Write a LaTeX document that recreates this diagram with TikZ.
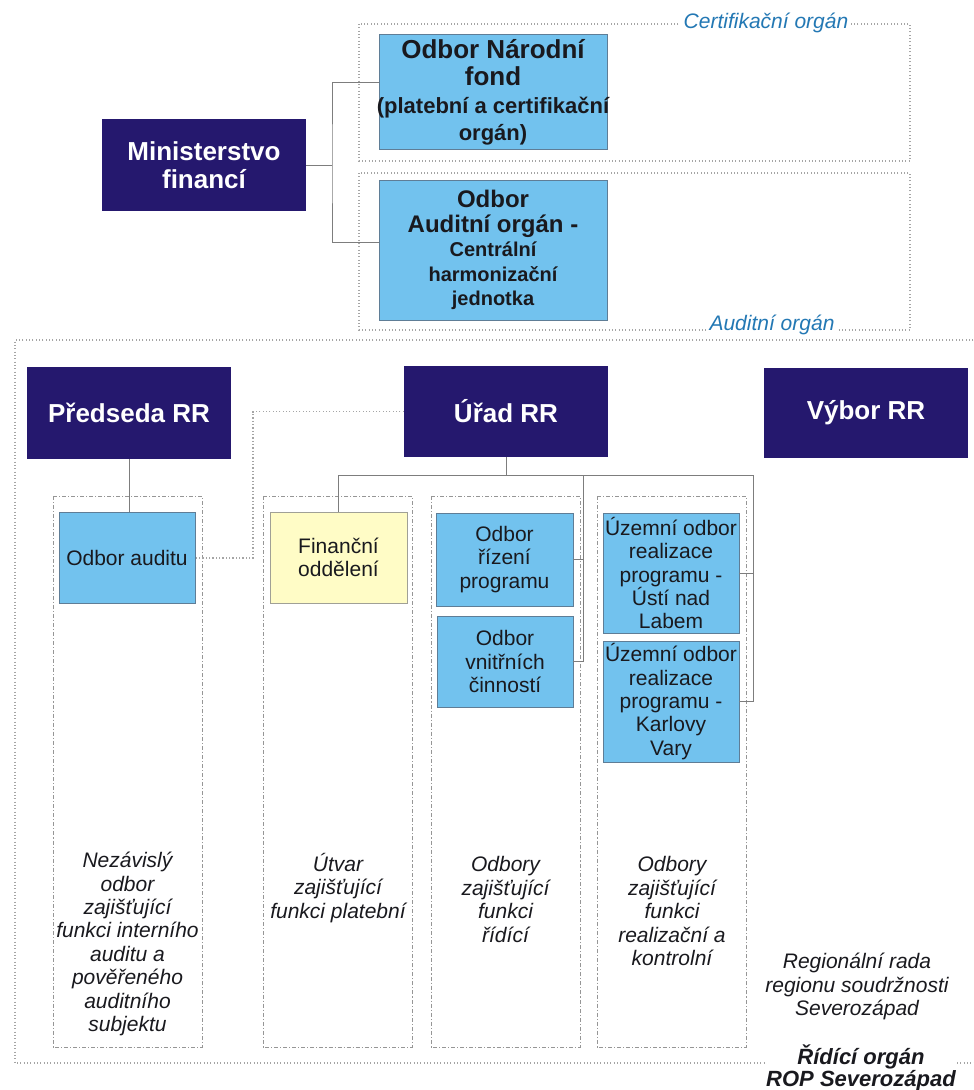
\documentclass[tikz,border=0pt]{standalone}
\usepackage{fontspec}
\setmainfont{Liberation Sans}
\usetikzlibrary{calc}
\definecolor{navy}{RGB}{37,24,110}
\definecolor{boxblue}{RGB}{114,194,238}
\definecolor{bluedge}{RGB}{95,125,150}
\definecolor{boxyellow}{RGB}{255,252,198}
\definecolor{yedge}{RGB}{160,160,150}
\definecolor{conngray}{RGB}{125,125,125}
\definecolor{dotgray}{RGB}{165,165,165}
\definecolor{colgray}{RGB}{150,150,150}
\definecolor{lblblue}{RGB}{35,120,180}
\definecolor{darktext}{RGB}{25,25,30}
\newcommand\fsz[2]{\fontsize{#1}{#2}\selectfont}
\begin{document}
\begin{tikzpicture}[x=0.75pt,y=-0.75pt,
  sz/.style 2 args={minimum width=#1*0.75pt, minimum height=#2*0.75pt},
  box/.style={inner sep=0pt, align=center},
  navybox/.style={box, fill=navy, text=white, font=\bfseries\fsz{19.5}{21}},
  bluebox/.style={box, draw=bluedge, line width=0.6pt, fill=boxblue, text=darktext, font=\fsz{15.75}{17.5}},
  yellowbox/.style={box, draw=yedge, line width=0.6pt, fill=boxyellow, text=darktext, font=\fsz{15.75}{17.5}},
  boxtext/.style={box, text=darktext},
  conn/.style={draw=conngray, line width=0.75pt},
  dotconn/.style={draw=dotgray, line width=0.9pt, dash pattern=on 0.9pt off 1.6pt},
  frame/.style={draw=dotgray, line width=0.8pt, dash pattern=on 0.8pt off 1.7pt},
  colframe/.style={draw=colgray, line width=0.7pt, dash pattern=on 3pt off 1.5pt on 0.8pt off 1.5pt},
  lbl/.style={font=\itshape\fsz{15.75}{18}, text=lblblue, fill=white, inner xsep=2.2pt, inner ysep=1pt},
  coltext/.style={font=\itshape\fsz{15.75}{17.55}, text=darktext, align=center, inner sep=0pt, anchor=north}
]
\useasboundingbox (0,0) rectangle (974,1090);

% frames
\draw[frame] (359,24) rectangle (910,161);
\draw[frame] (359,173) rectangle (910,330);
\draw[frame] (990,340) -- (15,340) -- (15,1063) -- (990,1063);
\draw[colframe] (53,496) rectangle (202,1047);
\draw[colframe] (263,496) rectangle (412,1047);
\draw[colframe] (431,496) rectangle (580,1047);
\draw[colframe] (597,496) rectangle (746,1047);

\node[lbl] (lcert) at (766,23) {Certifikační orgán};
\node[lbl] (laud) at (772,325) {Auditní orgán};

% top boxes
\node[navybox, sz={204}{92}] (mf) at (204,165) {Ministerstvo\\financí};
\node[bluebox, sz={228}{115}] (nf) at (493,91.5) {};
\node[boxtext, font=\bfseries\fsz{19.5}{20.5}] (nft) at ([yshift=-0.5pt]nf.center)
  {Odbor Národní\\fond\\{\fsz{16.5}{20}(platební a certifikační}\\{\fsz{16.5}{20}orgán)}};
\node[bluebox, sz={228}{140}] (ao) at (493,250) {};
\node[boxtext, font=\bfseries\fsz{18}{18.4}] (aot) at (ao.center)
  {Odbor\\Auditní orgán -\\{\fsz{15}{18.4}Centrální}\\{\fsz{15}{18.4}harmonizační}\\{\fsz{15}{18.4}jednotka}};

\coordinate (b1) at (332,165);
\draw[conn] (mf.east) -- (b1);
\draw[conn] ([yshift=7.1pt]nf.west) -| (b1) |- ([yshift=6pt]ao.west);

% second level
\node[navybox, sz={204}{92}] (pr) at (129,413) {Předseda RR};
\node[navybox, sz={204}{91}] (ur) at (506,411.5) {Úřad RR};
\node[navybox, sz={204}{90}] (vy) at (866,413) {Výbor RR};

% third level
\node[bluebox, sz={136}{91}] (oa) at (127,557.5) {Odbor auditu};
\node[yellowbox, sz={137}{91}] (fo) at (338.5,557.5) {Finanční\\oddělení};
\node[bluebox, sz={137}{93}] (orp) at (504.5,559.5) {Odbor\\řízení\\programu};
\node[bluebox, sz={136}{91}] (ovc) at (505,661.5) {Odbor\\vnitřních\\činností};
\node[bluebox, sz={136}{120}] (ul) at (671,573) {Územní odbor\\realizace\\programu -\\Ústí nad\\Labem};
\node[bluebox, sz={136}{121}] (kv) at (671,701.5) {Územní odbor\\realizace\\programu -\\Karlovy\\Vary};

% connectors
\draw[conn] (pr.south) -- (pr.south |- oa.north);
\coordinate (d1) at (253,558);
\draw[dotconn] (ur.west) -| (d1) -- (oa.east |- d1);
\coordinate (tM) at (583,475);
\coordinate (tR) at (753,475);
\draw[conn] (ur.south) -- (ur.south |- tR);
\draw[conn] (fo.north) -- (fo.north |- tR) -- (tR) -- (tR |- kv.east) -- (kv.east);
\draw[conn] (tR |- ul.east) -- (ul.east);
\draw[conn] (tM) -- (tM |- ovc.east) -- (ovc.east);
\draw[conn] (tM |- orp.east) -- (orp.east);

% column texts
\node[coltext] (c1) at (127.5,852) {Nezávislý\\odbor\\zajišťující\\funkci interního\\auditu a\\pověřeného\\auditního\\subjektu};
\node[coltext] (c2) at (338,853) {Útvar\\zajišťující\\funkci platební};
\node[coltext] (c3) at (505.5,856.5) {Odbory\\zajišťující\\funkci\\řídící};
\node[coltext] (c4) at (672,856.5) {Odbory\\zajišťující\\funkci\\realizační a\\kontrolní};
\node[coltext] (rr) at (857,953) {Regionální rada\\regionu soudržnosti\\Severozápad};
\node[coltext, font=\bfseries\itshape\fsz{16.5}{16.5}, fill=white, inner xsep=1pt] (ro) at (861,1045) {Řídící orgán\\ROP Severozápad};
\end{tikzpicture}
\end{document}
